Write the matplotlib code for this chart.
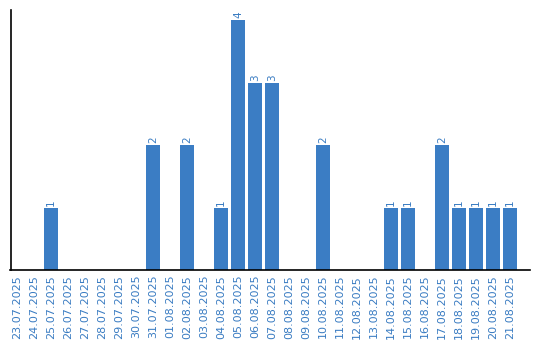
import matplotlib
matplotlib.use("Agg")
import matplotlib.pyplot as plt

dates = ["23.07.2025", "24.07.2025", "25.07.2025", "26.07.2025", "27.07.2025",
         "28.07.2025", "29.07.2025", "30.07.2025", "31.07.2025", "01.08.2025",
         "02.08.2025", "03.08.2025", "04.08.2025", "05.08.2025", "06.08.2025",
         "07.08.2025", "08.08.2025", "09.08.2025", "10.08.2025", "11.08.2025",
         "12.08.2025", "13.08.2025", "14.08.2025", "15.08.2025", "16.08.2025",
         "17.08.2025", "18.08.2025", "19.08.2025", "20.08.2025", "21.08.2025"]
counts = [0, 0, 1, 0, 0, 0, 0, 0, 2, 0,
          2, 0, 1, 4, 3, 3, 0, 0, 2, 0,
          0, 0, 1, 1, 0, 2, 1, 1, 1, 1]

bar_color = "#3b7dc4"
text_color = "#3a7cc2"

fig = plt.figure(figsize=(5.4, 3.4), dpi=100)
ax = fig.add_axes([10.5 / 540, 70 / 340, (530 - 10.5) / 540, 260 / 340])

x = list(range(len(dates)))
bars = ax.bar(x, counts, width=14 / 17, color=bar_color)
for xi, v in zip(x, counts):
    if v > 0:
        ax.text(xi, v + 0.03, str(v), rotation=90, ha="center", va="bottom",
                color=text_color, fontsize=7.5)

ax.set_xlim(-0.38, 30.18)
ax.set_ylim(0, 4.16)
ax.set_xticks(x)
ax.set_xticklabels(dates, rotation=90, color=text_color, fontsize=8)
ax.tick_params(axis="x", length=0, pad=3.5)
ax.set_yticks([])
ax.spines["top"].set_visible(False)
ax.spines["right"].set_visible(False)
ax.spines["left"].set_linewidth(1.2)
ax.spines["bottom"].set_linewidth(1.2)

fig.savefig("out.png", dpi=100)
